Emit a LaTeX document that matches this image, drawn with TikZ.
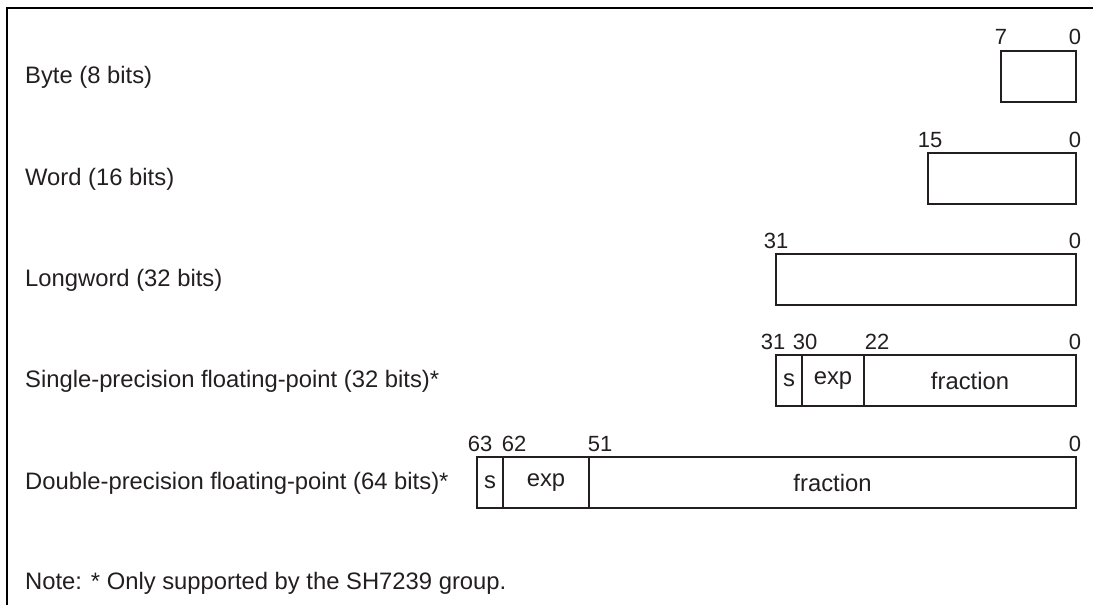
\documentclass[tikz,border=0pt]{standalone}
\usepackage{fontspec}
\setmainfont{Liberation Sans}
\usepackage{xcolor}
\definecolor{ink}{HTML}{231F20}
\tikzset{
  frame/.style={line width=2.6pt, black},
  field/.style={draw=ink, line width=2pt, inner sep=0pt, minimum height=51pt, anchor=north west, text=ink},
  bitnum/.style={anchor=base, inner sep=0pt, text=ink, font=\fontsize{22}{26}\selectfont},
  typename/.style={anchor=base west, inner sep=0pt, text=ink},
}

\begin{document}
\begin{tikzpicture}[x=1pt,y=-1pt,font=\fontsize{23.8}{28}\selectfont]
  \useasboundingbox (0,0) rectangle (1093,605);
  \draw[frame] (1093,8) -- (7,8) -- (7,605);
  % byte
  \node[typename] (byte) at (25,83) {Byte (8 bits)};
  \node[field, minimum width=75pt] (byte box) at (1000,50) {};
  \node[bitnum] (byte 7) at (1001,45) {7};
  \node[bitnum] (byte 0) at (1075,45) {0};
  % word
  \node[typename] (word) at (25,185) {Word (16 bits)};
  \node[field, minimum width=148pt] (word box) at (927,152) {};
  \node[bitnum] (word 15) at (930,147) {15};
  \node[bitnum] (word 0) at (1075,147) {0};
  % longword
  \node[typename] (long) at (25,286) {Longword (32 bits)};
  \node[field, minimum width=300pt] (long box) at (775,253) {};
  \node[bitnum] (long 31) at (776,248) {31};
  \node[bitnum] (long 0) at (1075,248) {0};
  % single precision
  \node[typename] (single) at (25,387) {Single-precision floating-point (32 bits)*};
  \node[field, minimum width=26pt] (single s) at (775,354) {s};
  \node[field, minimum width=62pt] (single exp) at (801,354) {exp};
  \node[field, minimum width=212pt] (single frac) at (863,354) {fraction};
  \foreach \bx/\bn in {773/31, 805/30, 877/22, 1075/0}
    \node[bitnum] (single \bn) at (\bx,349) {\bn};
  % double precision
  \node[typename] (double) at (25,489) {Double-precision floating-point (64 bits)*};
  \node[field, minimum width=26pt] (double s) at (476,456) {s};
  \node[field, minimum width=86pt] (double exp) at (502,456) {exp};
  \node[field, minimum width=487pt] (double frac) at (588,456) {fraction};
  \foreach \bx/\bn in {480/63, 514/62, 600/51, 1075/0}
    \node[bitnum] (double \bn) at (\bx,451) {\bn};
  % note
  \node[typename] (note) at (25,589) {Note: * Only supported by the SH7239 group.};
\end{tikzpicture}
\end{document}
